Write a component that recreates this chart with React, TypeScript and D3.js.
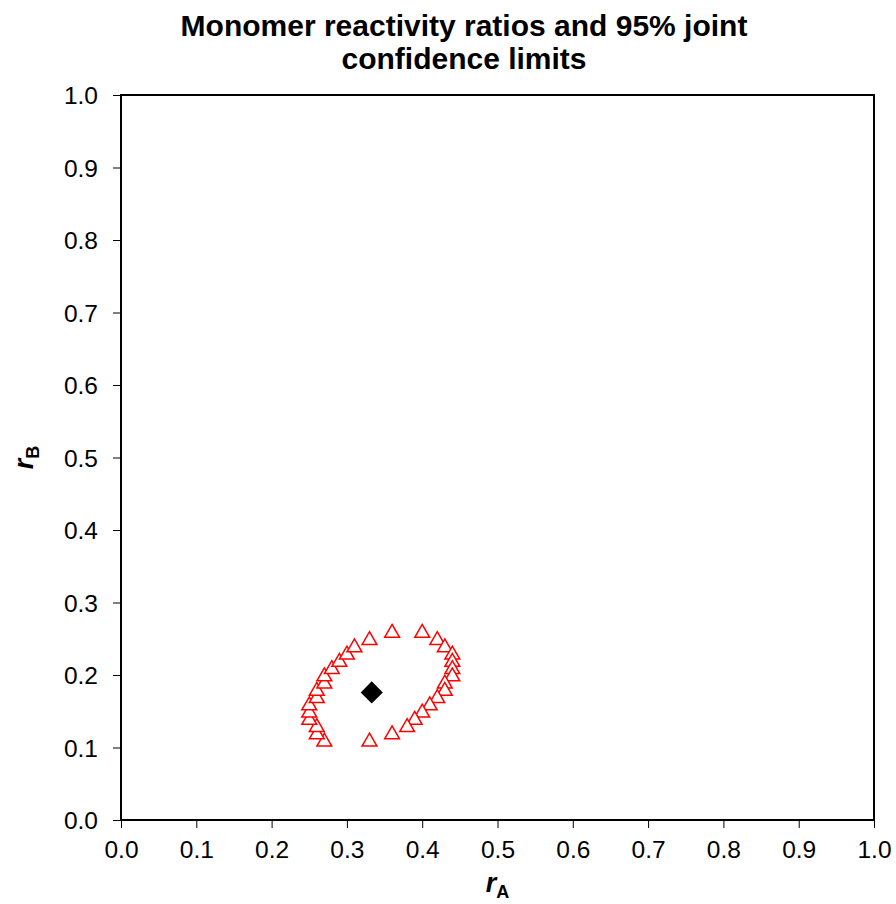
import React, { useRef, useEffect } from 'react';
import * as d3 from 'd3';

// 95% joint confidence contour points
const contourRA = [0.27, 0.26, 0.26, 0.25, 0.25, 0.25, 0.26, 0.26, 0.27, 0.27, 0.28, 0.29, 0.30, 0.31, 0.33, 0.36,
  0.40, 0.42, 0.43, 0.44, 0.44, 0.44, 0.44, 0.43, 0.43, 0.42, 0.41, 0.40, 0.39, 0.38, 0.36, 0.33];
const contourRB = [0.11, 0.12, 0.13, 0.14, 0.15, 0.16, 0.17, 0.18, 0.19, 0.20, 0.21, 0.22, 0.23, 0.24, 0.25, 0.26,
  0.26, 0.25, 0.24, 0.23, 0.22, 0.21, 0.20, 0.19, 0.18, 0.17, 0.16, 0.15, 0.14, 0.13, 0.12, 0.11];
// point estimate
const estimateRA = [0.333];
const estimateRB = [0.176];
const tickValues = [0, 0.1, 0.2, 0.3, 0.4, 0.5, 0.6, 0.7, 0.8, 0.9, 1.0];

const W = 896;
const H = 904;
const margin = { left: 121, right: 22, top: 95, bottom: 84 };

export default function App() {
  const svgRef = useRef<SVGSVGElement>(null);

  useEffect(() => {
    if (!svgRef.current) return;
    const svg = d3.select(svgRef.current);
    svg.selectAll('*').remove();

    const x = d3.scaleLinear().domain([0, 1]).range([margin.left, W - margin.right]);
    const y = d3.scaleLinear().domain([0, 1]).range([H - margin.bottom, margin.top]);
    const font = 'Liberation Sans, Arial, sans-serif';

    svg.append('rect').attr('width', W).attr('height', H).attr('fill', 'white');

    // title
    const title = svg.append('text')
      .attr('text-anchor', 'middle')
      .attr('font-family', font).attr('font-weight', 'bold').attr('font-size', 30);
    title.append('tspan').attr('x', 464).attr('y', 36).text('Monomer reactivity ratios and 95% joint');
    title.append('tspan').attr('x', 464).attr('y', 69).text('confidence limits');

    // axes
    const xAxis = svg.append('g')
      .attr('transform', `translate(0,${y(0)})`)
      .call(d3.axisBottom(x).tickValues(tickValues).tickFormat(d3.format('.1f')).tickSize(8).tickSizeOuter(0));
    const yAxis = svg.append('g')
      .attr('transform', `translate(${x(0)},0)`)
      .call(d3.axisLeft(y).tickValues(tickValues).tickFormat(d3.format('.1f')).tickSize(8).tickSizeOuter(0));
    [xAxis, yAxis].forEach(g => {
      g.select('.domain').remove();
      g.selectAll('line').attr('stroke', '#000').attr('stroke-width', 1);
      g.selectAll('text').attr('font-family', font).attr('font-size', 24.5).attr('fill', '#000');
    });
    xAxis.selectAll('text').attr('dy', '0').attr('y', 38);
    yAxis.selectAll('text').attr('x', -23).attr('dy', '0.35em');

    // plot frame
    svg.append('rect')
      .attr('x', x(0)).attr('y', y(1))
      .attr('width', x(1) - x(0)).attr('height', y(0) - y(1))
      .attr('fill', 'none').attr('stroke', '#000').attr('stroke-width', 2);

    // axis titles
    const xt = svg.append('text')
      .attr('x', x(0.5)).attr('y', 892).attr('text-anchor', 'middle')
      .attr('font-family', font).attr('font-weight', 'bold').attr('font-size', 27);
    xt.append('tspan').attr('font-style', 'italic').text('r');
    xt.append('tspan').attr('font-size', 18).attr('dy', 6).text('A');

    const yt = svg.append('text')
      .attr('transform', `translate(33,${y(0.5)}) rotate(-90)`).attr('text-anchor', 'middle')
      .attr('font-family', font).attr('font-weight', 'bold').attr('font-size', 27);
    yt.append('tspan').attr('font-style', 'italic').text('r');
    yt.append('tspan').attr('font-size', 18).attr('dy', 6).text('B');

    // contour triangles
    const tri = d3.symbol().type(d3.symbolTriangle).size(95);
    const contour = contourRA.map((a, i) => ({ a, b: contourRB[i] }));
    svg.append('g').selectAll('path')
      .data(contour).enter().append('path')
      .attr('d', tri)
      .attr('transform', d => `translate(${x(d.a)},${y(d.b) + 1.5})`)
      .attr('fill', 'white').attr('stroke', '#ff0000').attr('stroke-width', 1.5);

    // point estimate diamond
    const est = estimateRA.map((a, i) => ({ a, b: estimateRB[i] }));
    const dia = d3.symbol().type(d3.symbolSquare).size(245);
    svg.append('g').selectAll('path')
      .data(est).enter().append('path')
      .attr('d', dia)
      .attr('transform', d => `translate(${x(d.a)},${y(d.b)}) rotate(45)`)
      .attr('fill', '#000');
  }, []);

  return <svg ref={svgRef} width={W} height={H} style={{ display: 'block', position: 'absolute', left: 0, top: 0 }} />;
}
